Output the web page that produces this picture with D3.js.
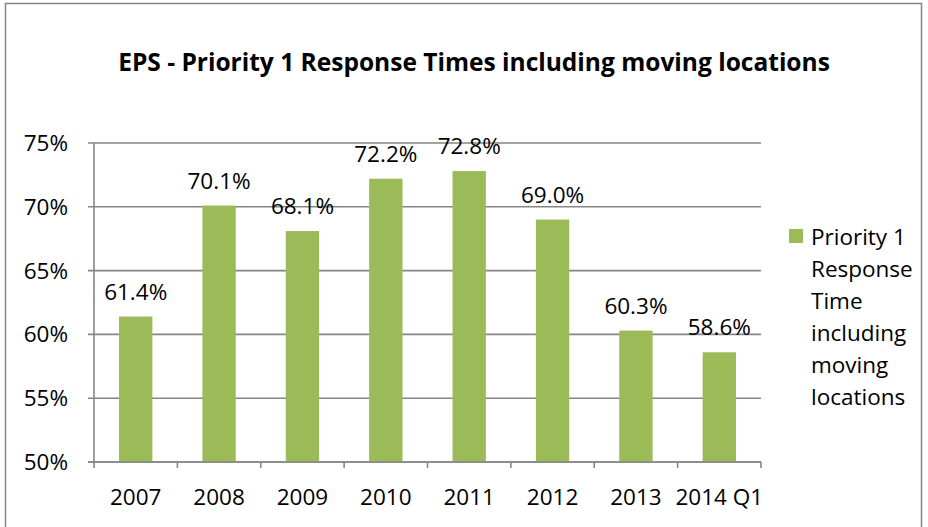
<!DOCTYPE html>
<html>
<head>
<meta charset="utf-8">
<script src="https://cdn.jsdelivr.net/npm/d3@7"></script>
<style>
  body { margin: 0; background: #fff; }
  text { font-family: "Open Sans", "Noto Sans", sans-serif; fill: #000; }
</style>
</head>
<body>
<div class="chart"></div>
<script>
const categories = ["2007", "2008", "2009", "2010", "2011", "2012", "2013", "2014 Q1"];
const responseValues = [61.4, 70.1, 68.1, 72.2, 72.8, 69.0, 60.3, 58.6];
const yTicks = [50, 55, 60, 65, 70, 75];
const legendLines = ["Priority 1", "Response", "Time", "including", "moving", "locations"];
const titleText = "EPS - Priority 1 Response Times including moving locations";

const W = 928, H = 527;
const plot = { left: 94, right: 761, top: 143, bottom: 462 };
const barColor = "#9bbb59";
const gridColor = "#868686";
const fontPx = "22.5px";

var svg = d3.select(".chart")
  .append("svg")
  .attr("width", W)
  .attr("height", H);

svg.append("rect")
  .attr("width", W).attr("height", H)
  .attr("fill", "#fff");

// chart border
svg.append("rect")
  .attr("x", 5.5).attr("y", 3.5)
  .attr("width", 916).attr("height", 560)
  .attr("fill", "none")
  .attr("stroke", "#868686")
  .attr("stroke-width", 1.5);

// title, fitted to the reference width
var title = svg.append("text")
  .attr("x", 474)
  .attr("y", 71)
  .attr("text-anchor", "middle")
  .style("font-weight", "bold")
  .style("font-size", "22px")
  .text(titleText);
var tw = title.node().getComputedTextLength();
title.style("font-size", (22 * 712 / tw) + "px");

var x = d3.scaleBand()
  .domain(categories)
  .range([plot.left, plot.right])
  .paddingInner(0.6)
  .paddingOuter(0.3);

var xEdges = d3.scaleBand()
  .domain(categories)
  .range([plot.left, plot.right]);

var y = d3.scaleLinear()
  .domain([50, 75])
  .range([plot.bottom, plot.top]);

// gridlines
svg.append("g")
  .selectAll("line")
  .data(yTicks)
  .enter().append("line")
  .attr("x1", plot.left - 6)
  .attr("x2", plot.right)
  .attr("y1", d => y(d))
  .attr("y2", d => y(d))
  .attr("stroke", gridColor)
  .attr("stroke-width", 1.6);

// y axis line
svg.append("line")
  .attr("x1", plot.left).attr("x2", plot.left)
  .attr("y1", plot.top).attr("y2", plot.bottom + 6)
  .attr("stroke", gridColor)
  .attr("stroke-width", 1.6);

// y labels
svg.append("g")
  .selectAll("text")
  .data(yTicks)
  .enter().append("text")
  .attr("x", 68)
  .attr("y", d => y(d) + 8)
  .attr("text-anchor", "end")
  .style("font-size", fontPx)
  .text(d => d + "%");

// x tick marks at band edges
var edges = categories.map(c => xEdges(c)).concat([plot.right]);
svg.append("g")
  .selectAll("line")
  .data(edges.slice(1))
  .enter().append("line")
  .attr("x1", d => d).attr("x2", d => d)
  .attr("y1", plot.bottom).attr("y2", plot.bottom + 6)
  .attr("stroke", gridColor)
  .attr("stroke-width", 1.6);

// bars
svg.append("g")
  .selectAll("rect")
  .data(responseValues)
  .enter().append("rect")
  .attr("x", (d, i) => x(categories[i]))
  .attr("width", x.bandwidth())
  .attr("y", d => y(d))
  .attr("height", d => y(50) - y(d))
  .attr("fill", barColor);

// redraw bottom axis line over bars
svg.append("line")
  .attr("x1", plot.left - 6).attr("x2", plot.right)
  .attr("y1", plot.bottom).attr("y2", plot.bottom)
  .attr("stroke", gridColor)
  .attr("stroke-width", 1.6);

// data labels
svg.append("g")
  .selectAll("text")
  .data(responseValues)
  .enter().append("text")
  .attr("x", (d, i) => x(categories[i]) + x.bandwidth() / 2)
  .attr("y", d => y(d) - 17)
  .attr("text-anchor", "middle")
  .style("font-size", fontPx)
  .text(d => d.toFixed(1) + "%");

// x labels
svg.append("g")
  .selectAll("text")
  .data(categories)
  .enter().append("text")
  .attr("x", d => xEdges(d) + xEdges.bandwidth() / 2)
  .attr("y", 505)
  .attr("text-anchor", "middle")
  .style("font-size", fontPx)
  .text(d => d);

// legend
var legend = svg.append("g");
legend.append("rect")
  .attr("x", 789).attr("y", 229)
  .attr("width", 14).attr("height", 14)
  .attr("fill", barColor);
legend.selectAll("text")
  .data(legendLines)
  .enter().append("text")
  .attr("x", 811)
  .attr("y", (d, i) => 245 + i * 32)
  .style("font-size", fontPx)
  .text(d => d);
</script>
</body>
</html>
